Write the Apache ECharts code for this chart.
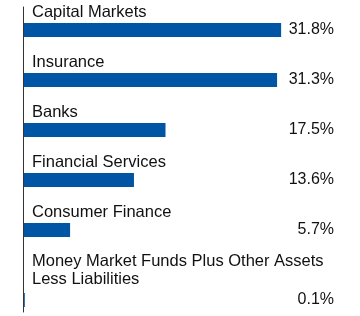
<!DOCTYPE html>
<html>
<head>
<meta charset="utf-8">
<script src="https://cdn.jsdelivr.net/npm/echarts@6/dist/echarts.min.js"></script>
<style>
html,body{margin:0;padding:0;background:#fff;}
#chart{width:360px;height:316px;}
</style>
</head>
<body>
<div id="chart"></div>
<script>
const categories = ['Capital Markets', 'Insurance', 'Banks', 'Financial Services', 'Consumer Finance', 'Money Market Funds Plus Other Assets Less Liabilities'];
const values = [31.8, 31.3, 17.5, 13.6, 5.7, 0.1];
const valueLabels = values.map(v => v.toFixed(1) + '%');

const FONT = 'Liberation Sans, Arial, sans-serif';
const TEXT = '#111';
const BAR = '#0055a5';

const catsA = categories.slice(0, 5), valsA = values.slice(0, 5), labsA = valueLabels.slice(0, 5);
const catsB = categories.slice(5), valsB = values.slice(5), labsB = valueLabels.slice(5);

const nameLabel = {
  show: true, formatter: '{b}', position: [8, -2], align: 'left', verticalAlign: 'bottom',
  fontSize: 16.5, fontFamily: FONT, color: TEXT
};
const valueAxis = (gi, data) => ({
  gridIndex: gi, type: 'category', data: data, inverse: true, position: 'right', offset: 27,
  axisLine: { show: false }, axisTick: { show: false }, splitLine: { show: false },
  axisLabel: { inside: true, margin: 0, align: 'right', fontSize: 16, fontFamily: FONT, color: TEXT, padding: [6, 0, 0, 0] }
});

const chart = echarts.init(document.getElementById('chart'), null, { renderer: 'canvas' });
chart.setOption({
  animation: false,
  grid: [
    { left: 24, right: 53, top: 5, height: 250 },
    { left: 24, right: 53, top: 290, height: 20 },
    { left: 23, right: 53, top: 7, bottom: 4 }
  ],
  xAxis: [0, 1, 2].map(i => ({ gridIndex: i, type: 'value', min: 0, max: 35, show: false })),
  yAxis: [
    { gridIndex: 0, type: 'category', data: catsA, inverse: true, show: false },
    valueAxis(0, labsA),
    { gridIndex: 1, type: 'category', data: catsB, inverse: true, show: false },
    valueAxis(1, labsB),
    { gridIndex: 2, type: 'value', min: 0, max: 1, axisLine: { show: true, lineStyle: { color: '#333', width: 1 } },
      axisTick: { show: false }, axisLabel: { show: false }, splitLine: { show: false } }
  ],
  series: [
    { type: 'bar', xAxisIndex: 0, yAxisIndex: 0, data: valsA, barWidth: 14, itemStyle: { color: BAR }, label: nameLabel },
    { type: 'bar', xAxisIndex: 1, yAxisIndex: 2, data: valsB, barWidth: 14, itemStyle: { color: BAR },
      label: Object.assign({}, nameLabel, { position: [8, -4.5], width: 300, overflow: 'break', lineHeight: 18 }) }
  ]
});
</script>
</body>
</html>
